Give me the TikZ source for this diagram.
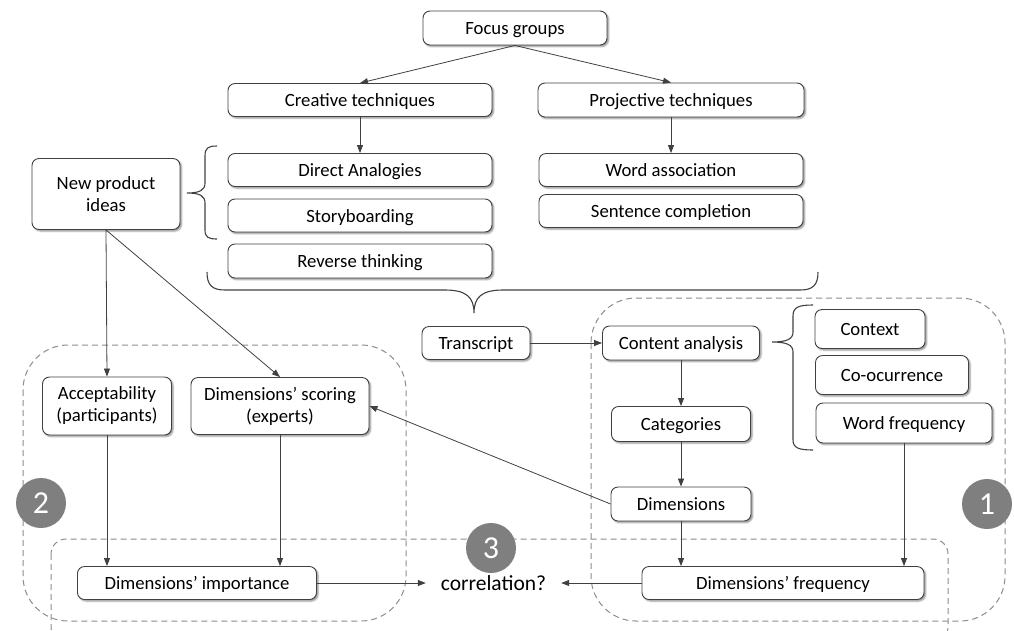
\documentclass[tikz,border=0pt]{standalone}
\usepackage{fontspec}
\setmainfont{Carlito}
\usetikzlibrary{arrows.meta,shadows.blur}
\definecolor{linec}{HTML}{404040}
\definecolor{dashc}{HTML}{8C8C8C}
\definecolor{circc}{HTML}{7F7F7F}
\tikzset{
  box/.style={draw=linec, line width=0.9pt, fill=white, rounded corners=7pt,
    align=center, inner sep=0pt, font=\fontsize{18.7}{22}\selectfont,
    blur shadow={shadow xshift=1.6pt, shadow yshift=-1.6pt, shadow blur steps=4,
      shadow blur radius=1.6pt, shadow opacity=45}},
  one/.style={text height=16pt, text depth=3pt},
  arr/.style={draw=linec, line width=0.8pt, -{Triangle[length=8pt,width=6pt]}},
  region/.style={draw=dashc, line width=1pt, dash pattern=on 6pt off 4pt},
  numc/.style={circle, fill=circc, minimum size=50pt, inner sep=0pt, text=white,
    font=\fontsize{32}{35}\selectfont},
  bracec/.style={draw=linec, line width=1.1pt},
}
\begin{document}
\begin{tikzpicture}[x=1pt,y=-1pt]
\clip (0,0) rectangle (1014,630);
% dashed regions
\draw[region, rounded corners=45pt] (23,345) rectangle (406,621);
\draw[region, rounded corners=45pt] (591,298) rectangle (1005,621);
\draw[region, rounded corners=15pt] (51,539) rectangle (948,642);
% circles
\node[numc] (c2) at (41,503) {2};
\node[numc] (c1) at (987,504) {1};
\node[numc] (c3) at (491,548) {3};
% boxes
\node[box, one, minimum width=184pt, minimum height=34pt] (fg) at (515,28) {Focus groups};
\node[box, one, minimum width=264pt, minimum height=33pt] (ct) at (360,100) {Creative techniques};
\node[box, one, minimum width=266pt, minimum height=34pt] (pt) at (671,100) {Projective techniques};
\node[box, one, minimum width=264pt, minimum height=33pt] (da) at (360,170) {Direct Analogies};
\node[box, one, minimum width=264pt, minimum height=33pt] (sb) at (360,215.5) {Storyboarding};
\node[box, one, minimum width=264pt, minimum height=34pt] (rt) at (360,261) {Reverse thinking};
\node[box, one, minimum width=264pt, minimum height=33pt] (wa) at (671,170) {Word association};
\node[box, one, minimum width=264pt, minimum height=33pt] (sc) at (671,211) {Sentence completion};
\node[box, minimum width=148pt, minimum height=71pt] (npi) at (106,194) {New product\\ideas};
\node[box, one, minimum width=108pt, minimum height=33pt] (tr) at (476,343) {Transcript};
\node[box, one, minimum width=157pt, minimum height=34pt] (ca) at (681,343) {Content analysis};
\node[box, one, minimum width=110pt, minimum height=39pt] (ctx) at (870,329) {Context};
\node[box, one, minimum width=153pt, minimum height=39pt] (co) at (892,375) {Co-ocurrence};
\node[box, one, minimum width=176pt, minimum height=40pt] (wf) at (904,423) {Word frequency};
\node[box, one, minimum width=139pt, minimum height=35pt] (cat) at (681,424) {Categories};
\node[box, one, minimum width=140pt, minimum height=34pt] (dim) at (681,504) {Dimensions};
\node[box, minimum width=129pt, minimum height=58pt] (acc) at (107,406) {Acceptability\\(participants)};
\node[box, minimum width=178pt, minimum height=57pt] (dsc) at (280,406) {Dimensions’ scoring\\(experts)};
\node[box, one, minimum width=239pt, minimum height=33pt] (dimp) at (197,583) {Dimensions’ importance};
\node[box, one, minimum width=282pt, minimum height=33pt] (dfr) at (783,583) {Dimensions’ frequency};
\node[inner sep=0pt, minimum width=135pt, minimum height=30pt, text height=17pt, text depth=3pt,
  font=\fontsize{21.5}{25}\selectfont] (corr) at (493.5,583) {correlation?};
% braces
\draw[bracec] (217,146) .. controls (208,146) and (205,148) .. (205,156) -- (205,183)
  .. controls (205,190) and (200,193) .. (187,193) .. controls (200,193) and (205,196) .. (205,203)
  -- (205,230) .. controls (205,237) and (208,239) .. (217,239);
\draw[bracec] (207,272) .. controls (207,285) and (212,290) .. (225,290) -- (445,290)
  .. controls (466,290) and (474,297) .. (474,313) .. controls (474,297) and (482,290) .. (503,290)
  -- (800,290) .. controls (813,290) and (818,285) .. (818,272);
\draw[bracec] (813,305) .. controls (799,305) and (793,307) .. (793,316) -- (793,332)
  .. controls (793,339) and (787,342) .. (772,342) .. controls (787,342) and (793,345) .. (793,352)
  -- (793,440) .. controls (793,448) and (799,450) .. (813,450);
% connectors
\draw[arr] (fg.south) -- (ct.north);
\draw[arr] (fg.south) -- (pt.north);
\draw[arr] (ct.south) -- (da.north);
\draw[arr] (pt.south) -- (wa.north);
\draw[arr] (npi.south) -- (acc.north);
\draw[arr] (npi.south) -- (dsc.north);
\draw[arr] (tr.east) -- (ca.west);
\draw[arr] (ca.south) -- (cat.north);
\draw[arr] (cat.south) -- (dim.north);
\draw[arr] (dim.west) -- (dsc.east);
\draw[arr] (dim.south) -- (dim.south |- dfr.north);
\draw[arr] (wf.south) -- (wf.south |- dfr.north);
\draw[arr] (acc.south) -- (acc.south |- dimp.north);
\draw[arr] (dsc.south) -- (dsc.south |- dimp.north);
\draw[arr] (dimp.east) -- (corr.west);
\draw[arr] (dfr.west) -- (corr.east);
\end{tikzpicture}
\end{document}
